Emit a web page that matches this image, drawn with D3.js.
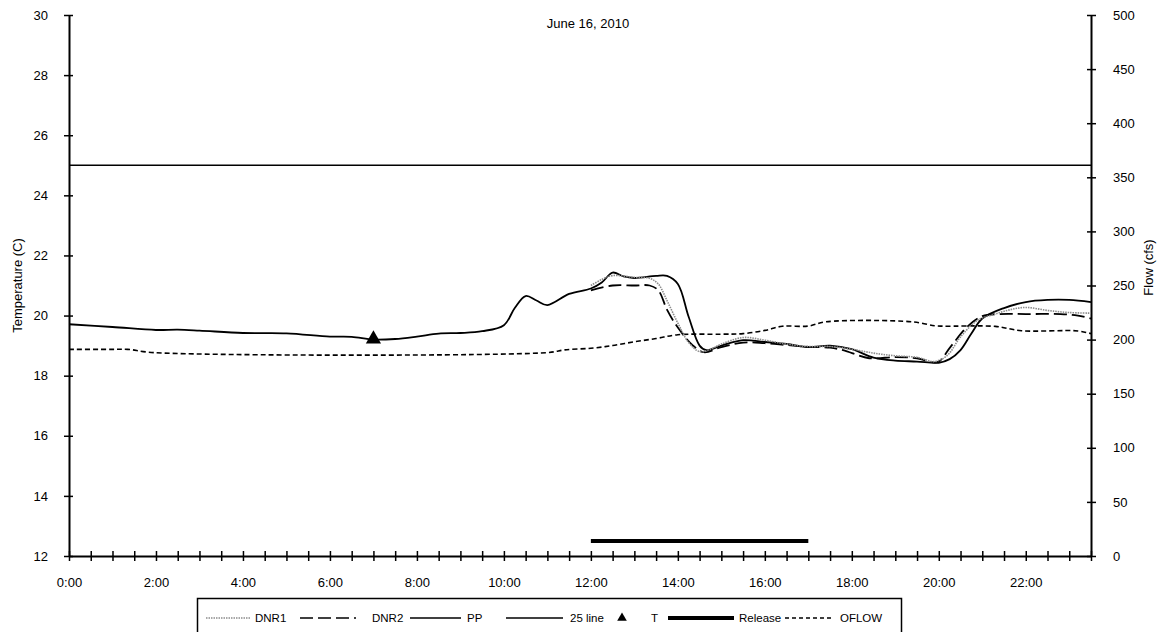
<!DOCTYPE html>
<html>
<head>
<meta charset="utf-8">
<script src="https://cdn.jsdelivr.net/npm/d3@7"></script>
<style>
  html, body { margin: 0; padding: 0; background: #fff; }
  svg text { font-family: "Liberation Sans", Arial, sans-serif; fill: #000; }
</style>
</head>
<body>
<svg id="chart" width="1162" height="632"></svg>
<script>
// ---------- data ----------
const title = "June 16, 2010";
const leftTicks = [12, 14, 16, 18, 20, 22, 24, 26, 28, 30];
const rightTicks = [0, 50, 100, 150, 200, 250, 300, 350, 400, 450, 500];
const xTickLabels = ["0:00","2:00","4:00","6:00","8:00","10:00","12:00","14:00","16:00","18:00","20:00","22:00"];

const ppHours = [0,1,2,2.5,3,4,5,6,6.5,7,7.5,8,8.5,9,9.5,10,10.25,10.5,10.75,11,11.5,12,12.25,12.5,12.75,13,13.5,13.75,14,14.25,14.5,14.65,15,15.5,16,16.5,17,17.5,18,18.5,19,19.5,20,20.25,20.5,20.75,21,21.5,22,22.5,23,23.5];
const ppTemp  = [19.71,19.62,19.52,19.53,19.5,19.42,19.41,19.3,19.29,19.2,19.22,19.3,19.4,19.42,19.48,19.68,20.25,20.65,20.5,20.35,20.72,20.9,21.1,21.43,21.3,21.25,21.32,21.32,21.05,19.95,19.0,18.85,19.0,19.18,19.12,19.06,18.95,19.0,18.88,18.6,18.5,18.47,18.43,18.55,18.85,19.4,19.9,20.25,20.45,20.52,20.52,20.45];

const dnr1Hours = [12,12.25,12.5,13,13.35,13.55,13.75,14,14.25,14.5,14.75,15,15.5,16,16.5,17,17.5,18,18.5,19,19.5,19.9,20.2,20.5,20.9,21.25,21.6,22,22.5,23,23.5];
const dnr1Temp  = [21.0,21.2,21.33,21.27,21.24,21.05,20.5,19.75,19.1,18.8,18.88,19.05,19.27,19.18,19.05,18.97,18.97,18.88,18.75,18.66,18.61,18.47,18.68,19.29,19.85,20.03,20.18,20.27,20.17,20.1,20.08];

const dnr2Hours = [12,12.5,13,13.35,13.55,13.75,14,14.35,14.6,15,15.5,16,16.5,17,17.5,17.8,18.4,19,19.5,19.97,20.27,20.65,21,21.4,22,22.8,23.2,23.5];
const dnr2Temp  = [20.84,21.0,21.0,21.0,20.84,20.2,19.6,19.0,18.78,18.95,19.1,19.08,19.02,18.96,18.93,18.85,18.58,18.62,18.58,18.45,18.96,19.62,19.98,20.05,20.05,20.05,20.0,19.9];

const oflowHours = [0,1,1.35,1.95,11,11.4,12,12.5,13,13.5,14,15,15.5,16,16.4,17,17.4,19.4,19.9,20.1,21.3,21.9,23.2,23.5];
const oflowCfs   = [191,191,191,188,188,190.5,192,194.5,198,201,204.5,205,205.5,208.5,212.3,212.5,216.4,216.4,212.8,212.4,212.2,208.2,208,205.5];

const line25Hours = [0, 23.5];
const line25Temp  = [25, 25];

const releaseHours = [12, 17];
const releaseTemp  = [12.5, 12.5];

const tHour = [7];
const tTemp = [19.22];

const legendNames = ["DNR1", "DNR2", "PP", "25 line", "T", "Release", "OFLOW"];

// ---------- layout ----------
const svg = d3.select("#chart");
const plotL = 69, plotR = 1091, plotT = 15, plotB = 556;
const font = 13;

const x = d3.scaleLinear().domain([0, 23.5]).range([plotL, plotR]);
const yT = d3.scaleLinear().domain([12, 30]).range([plotB, plotT]);
const yF = d3.scaleLinear().domain([0, 500]).range([plotB, plotT]);

const zip = (a, b) => a.map((v, i) => [v, b[i]]);
const curve = d3.curveCatmullRom.alpha(0.5);

// ---------- axes ----------
const gx = svg.append("g").attr("transform", `translate(0,${plotB})`)
  .call(d3.axisBottom(x).tickValues(d3.range(0, 23.51, 0.5))
    .tickFormat(d => (d % 2 === 0 ? xTickLabels[d / 2] : ""))
    .tickSizeOuter(0).tickSizeInner(5).tickPadding(17));
gx.selectAll(".tick line").attr("y1", -5).attr("y2", 5).attr("stroke", "#000").attr("stroke-width", 1.5);
gx.select(".domain").attr("stroke", "#000").attr("stroke-width", 2);
gx.selectAll("text").attr("font-size", font);

const gl = svg.append("g").attr("transform", `translate(${plotL},0)`)
  .call(d3.axisLeft(yT).tickValues(leftTicks).tickSizeOuter(0).tickSizeInner(5).tickPadding(16));
gl.selectAll(".tick line").attr("x1", 4).attr("x2", -5).attr("stroke", "#000").attr("stroke-width", 1.5);
gl.select(".domain").attr("stroke", "#000").attr("stroke-width", 2);
gl.selectAll("text").attr("font-size", font);

const gr = svg.append("g").attr("transform", `translate(${plotR},0)`)
  .call(d3.axisRight(yF).tickValues(rightTicks).tickSizeOuter(0).tickSizeInner(5).tickPadding(17));
gr.selectAll(".tick line").attr("x1", -4).attr("x2", 5).attr("stroke", "#000").attr("stroke-width", 1.5);
gr.select(".domain").attr("stroke", "#000").attr("stroke-width", 2);
gr.selectAll("text").attr("font-size", font);

// axis titles
svg.append("text").attr("transform", `translate(22,${(plotT + plotB) / 2}) rotate(-90)`)
  .attr("text-anchor", "middle").attr("font-size", font).text("Temperature (C)");
svg.append("text").attr("transform", `translate(1153,${(plotT + plotB) / 2 - 18}) rotate(-90)`)
  .attr("text-anchor", "middle").attr("font-size", font).text("Flow (cfs)");

// title
svg.append("text").attr("x", 588).attr("y", 28).attr("text-anchor", "middle")
  .attr("font-size", font).text(title);

// ---------- series ----------
const lineT = d3.line().x(d => x(d[0])).y(d => yT(d[1])).curve(curve);
const lineF = d3.line().x(d => x(d[0])).y(d => yF(d[1])).curve(curve);

svg.append("path").datum(zip(line25Hours, line25Temp)).attr("d", d3.line().x(d => x(d[0])).y(d => yT(d[1])))
  .attr("fill", "none").attr("stroke", "#000").attr("stroke-width", 1.5);

svg.append("path").datum(zip(oflowHours, oflowCfs)).attr("d", lineF)
  .attr("fill", "none").attr("stroke", "#000").attr("stroke-width", 1.6).attr("stroke-dasharray", "5,3");

svg.append("path").datum(zip(ppHours, ppTemp)).attr("d", lineT)
  .attr("fill", "none").attr("stroke", "#000").attr("stroke-width", 1.8);

svg.append("path").datum(zip(dnr2Hours, dnr2Temp)).attr("d", lineT)
  .attr("fill", "none").attr("stroke", "#000").attr("stroke-width", 1.8).attr("stroke-dasharray", "13,5");

svg.append("path").datum(zip(dnr1Hours, dnr1Temp)).attr("d", lineT)
  .attr("fill", "none").attr("stroke", "#8c8c8c").attr("stroke-width", 1.6).attr("stroke-dasharray", "1.5,1");

svg.append("path").datum(zip(releaseHours, releaseTemp)).attr("d", d3.line().x(d => x(d[0])).y(d => yT(d[1])))
  .attr("fill", "none").attr("stroke", "#000").attr("stroke-width", 4);

svg.selectAll(".tmark").data(zip(tHour, tTemp)).enter().append("path")
  .attr("transform", d => `translate(${x(d[0])},${yT(d[1])})`)
  .attr("d", d3.symbol(d3.symbolTriangle, 100)).attr("fill", "#000");

// ---------- legend ----------
const lg = svg.append("g");
lg.append("rect").attr("x", 197.5).attr("y", 598.5).attr("width", 704).attr("height", 50)
  .attr("fill", "#fff").attr("stroke", "#000").attr("stroke-width", 1.5);
const ly = 618;
const legendStyles = [
  {x0: 206, x1: 250, tx: 255, stroke: "#8c8c8c", w: 1.5, dash: "1.5,1"},
  {x0: 300, x1: 368, tx: 372, stroke: "#000", w: 1.5, dash: "13,5,13,5,13,5,2,20"},
  {x0: 410, x1: 461, tx: 467, stroke: "#000", w: 1.5, dash: null},
  {x0: 506, x1: 563, tx: 570, stroke: "#000", w: 1.5, dash: null},
  {sym: true, x0: 622, tx: 651},
  {x0: 668, x1: 734, tx: 739, stroke: "#000", w: 4, dash: null},
  {x0: 785, x1: 834, tx: 840, stroke: "#000", w: 1.5, dash: "4,3"}
];
legendNames.forEach((name, i) => {
  const it = legendStyles[i];
  if (it.sym) {
    lg.append("path").attr("transform", `translate(${it.x0},${ly})`)
      .attr("d", d3.symbol(d3.symbolTriangle, 40)).attr("fill", "#000");
  } else {
    const l = lg.append("line").attr("x1", it.x0).attr("x2", it.x1).attr("y1", ly).attr("y2", ly)
      .attr("stroke", it.stroke).attr("stroke-width", it.w);
    if (it.dash) l.attr("stroke-dasharray", it.dash);
  }
  lg.append("text").attr("x", it.tx).attr("y", ly + 4).attr("font-size", 11.5).text(name);
});
</script>
</body>
</html>
